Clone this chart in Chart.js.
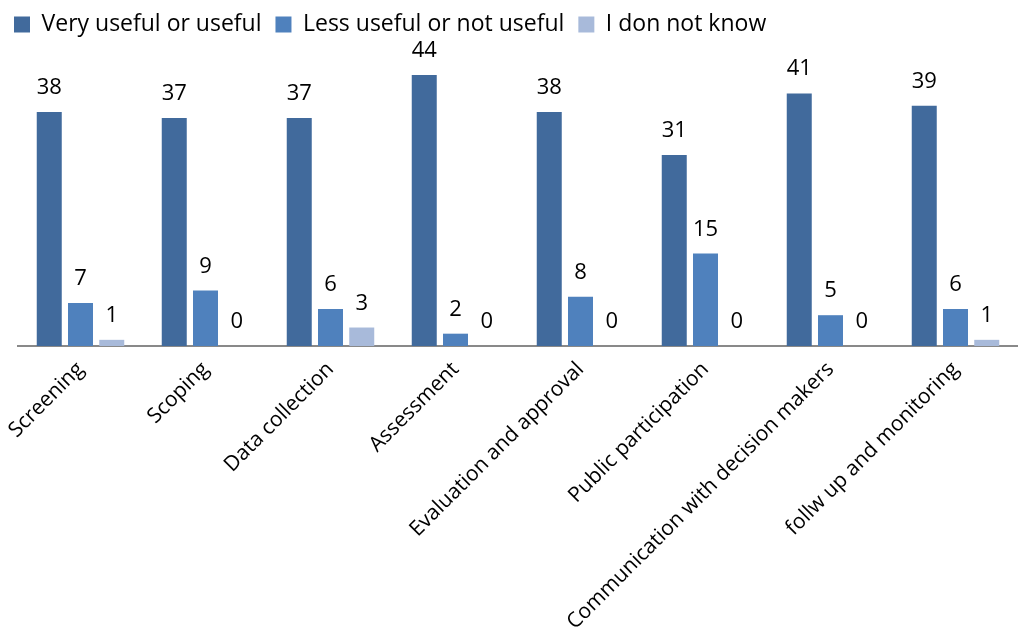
<!DOCTYPE html>
<html>
<head>
<meta charset="utf-8">
<title>EIA stages usefulness</title>
<script src="https://cdn.jsdelivr.net/npm/chart.js@4"></script>
<style>
  html, body { margin: 0; padding: 0; background: #fff; }
  #wrap { width: 1018px; height: 635px; position: relative; }
</style>
</head>
<body>
<div id="wrap"><canvas id="chart"></canvas></div>
<script>
// survey answers per EIA stage
const stages = ['Screening', 'Scoping', 'Data collection', 'Assessment', 'Evaluation and approval',
    'Public participation', 'Communication with decision makers', 'follw up and monitoring'];
const usefulCounts = [38, 37, 37, 44, 38, 31, 41, 39];
const notUsefulCounts = [7, 9, 6, 2, 8, 15, 5, 6];
const dontKnowCounts = [1, 0, 3, 0, 0, 0, 0, 1];

const FONT = '"Open Sans", Lato, sans-serif';

// writes the count above every bar
const valueLabels = {
    id: 'valueLabels',
    afterDatasetsDraw(chart) {
        const ctx = chart.ctx;
        ctx.save();
        ctx.font = '22px ' + FONT;
        ctx.fillStyle = '#000';
        ctx.textAlign = 'center';
        ctx.textBaseline = 'alphabetic';
        chart.data.datasets.forEach((ds, i) => {
            chart.getDatasetMeta(i).data.forEach((bar, j) => {
                ctx.fillText(String(ds.data[j]), bar.x, bar.y - 18);
            });
        });
        ctx.restore();
    }
};

const chart = new Chart(document.getElementById('chart'), {
    type: 'bar',
    data: {
        labels: stages,
        datasets: [
            { label: 'Very useful or useful', data: usefulCounts, backgroundColor: '#416A9C' },
            { label: 'Less useful or not useful', data: notUsefulCounts, backgroundColor: '#4F81BD' },
            { label: 'I don not know', data: dontKnowCounts, backgroundColor: '#A8BADA' }
        ]
    },
    options: {
        responsive: true,
        maintainAspectRatio: false,
        animation: false,
        categoryPercentage: 0.75,
        barPercentage: 0.8,
        layout: { padding: { left: 0, right: 0, top: -1, bottom: 0 } },
        plugins: {
            legend: {
                position: 'top',
                align: 'start',
                labels: {
                    boxWidth: 16,
                    boxHeight: 16,
                    padding: 14,
                    color: '#000',
                    font: { family: FONT, size: 23 }
                }
            },
            tooltip: { enabled: false }
        },
        scales: {
            x: {
                grid: { display: false },
                border: { display: true, color: '#898989', width: 2 },
                ticks: {
                    color: '#000',
                    font: { family: FONT, size: 21 },
                    minRotation: 45,
                    maxRotation: 45,
                    autoSkip: false
                },
                // fixed band for the slanted stage names, baseline sits at 346px
                afterFit(scale) {
                    scale.height = 289;
                    scale.paddingLeft = 18;
                    scale.paddingRight = 0;
                }
            },
            y: {
                display: false,
                min: 0,
                max: 48.7
            }
        }
    },
    plugins: [valueLabels]
});
</script>
</body>
</html>
